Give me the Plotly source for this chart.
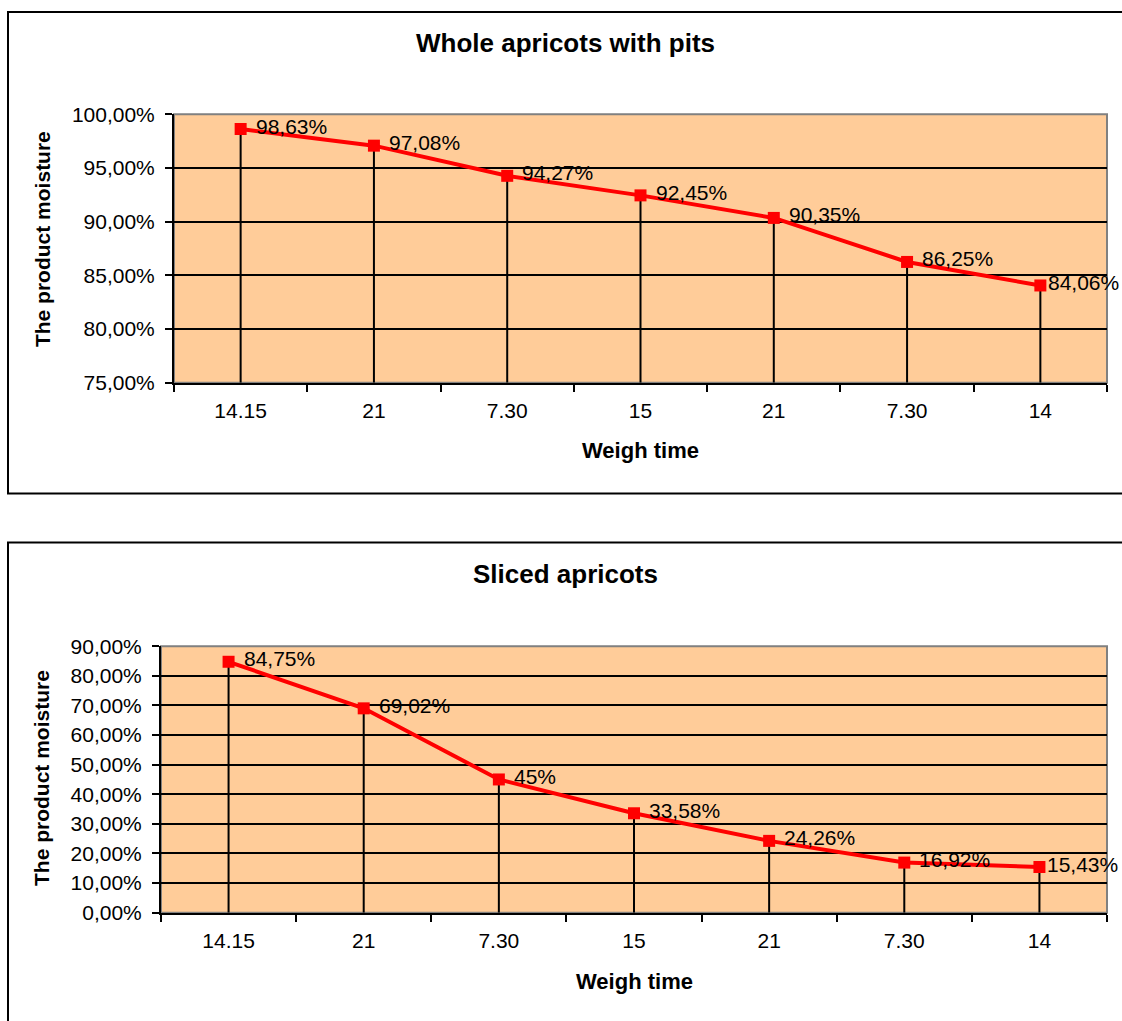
import plotly.graph_objects as go

categories = ["14.15", "21", "7.30", "15", "21", "7.30", "14"]
whole_values = [98.63, 97.08, 94.27, 92.45, 90.35, 86.25, 84.06]
sliced_values = [84.75, 69.02, 45.00, 33.58, 24.26, 16.92, 15.43]
whole_title = "Whole apricots with pits"
sliced_title = "Sliced apricots"
x_title = "Weigh time"
y_title = "The product moisture"

FONT = "Liberation Sans, Arial, sans-serif"
W, H = 1122, 1021
RED = "#FF0000"
BG = "#FFCC99"


def lab(v):
    s = f"{v:.2f}".rstrip("0").rstrip(".")
    return s.replace(".", ",") + "%"


def px(x):
    return x / W


def py(y):
    # observed screen mapping of the page: ~1000 px tall drawing area offset ~10.5 px
    return 1 - (y - 10.5) / 1000


xs = list(range(len(categories)))
fig = go.Figure()

panels = [
    dict(vals=whole_values, ymin=0.75, ymax=1.0, dtick=0.05, ax="x", ay="y",
         xdom=[px(174), px(1107)], ydom=[py(382), py(113)]),
    dict(vals=sliced_values, ymin=0.0, ymax=0.9, dtick=0.1, ax="x2", ay="y2",
         xdom=[px(161), px(1107)], ydom=[py(913), py(646)]),
]

for p in panels:
    yv = [v / 100 for v in p["vals"]]
    fig.add_trace(go.Scatter(
        x=xs, y=yv, xaxis=p["ax"], yaxis=p["ay"], mode="lines+markers",
        line=dict(color=RED, width=4),
        marker=dict(symbol="square", size=12, color=RED),
        error_y=dict(type="data", symmetric=False,
                     array=[0] * len(yv),
                     arrayminus=[v - p["ymin"] for v in yv],
                     color="black", thickness=2, width=0),
        showlegend=False, hoverinfo="skip", cliponaxis=False,
    ))
    n = len(xs)
    for xi, v in zip(xs, p["vals"]):
        fig.add_annotation(x=xi, y=v / 100, xref=p["ax"], yref=p["ay"],
                           text=lab(v), showarrow=False, xanchor="left",
                           yanchor="middle", xshift=13 if xi < n - 1 else 6, yshift=3,
                           font=dict(family=FONT, size=21, color="black"))

axis_common = dict(showline=True, linecolor="black", linewidth=2)

for i, p in enumerate(panels):
    xk = "xaxis" if i == 0 else "xaxis2"
    yk = "yaxis" if i == 0 else "yaxis2"
    fig.update_layout(**{
        xk: dict(domain=p["xdom"], anchor=p["ay"], range=[-0.5, len(xs) - 0.5],
                 tickvals=xs, ticktext=categories, ticks="", showgrid=False,
                 zeroline=False, ticklabelstandoff=8,
                 tickfont=dict(family=FONT, size=21, color="black"),
                 minor=dict(tickvals=[x - 0.5 for x in range(len(xs) + 1)],
                            ticks="outside", ticklen=7, tickwidth=2,
                            tickcolor="black", showgrid=False),
                 **axis_common),
        yk: dict(domain=p["ydom"], anchor=p["ax"], range=[p["ymin"], p["ymax"]],
                 dtick=p["dtick"], tick0=0, tickformat=".2%", ticks="outside",
                 ticklen=7, tickwidth=2, tickcolor="black",
                 showgrid=True, gridcolor="black", gridwidth=2,
                 zeroline=False, ticklabelstandoff=6,
                 tickfont=dict(family=FONT, size=21, color="black"),
                 **axis_common),
    })
    fig.add_shape(type="rect", xref=f"{p['ax']} domain", yref=f"{p['ay']} domain",
                  x0=0, x1=1, y0=0, y1=1, line=dict(color="#808080", width=2),
                  layer="below")

# outer chart boxes
fig.add_shape(type="rect", xref="paper", yref="paper", x0=px(8), x1=px(1130),
              y0=py(493), y1=py(10.5), line=dict(color="black", width=2))
fig.add_shape(type="rect", xref="paper", yref="paper", x0=px(8), x1=px(1130),
              y0=py(1030), y1=py(542), line=dict(color="black", width=2))

texts = [
    (whole_title, 565, 42, 0, 26),
    (sliced_title, 565, 574, 0, 26),
    (x_title, 640, 450, 0, 22),
    (x_title, 634, 982, 0, 22),
    (y_title, 42, 238, -90, 21),
    (y_title, 42, 778, -90, 21),
]
for t, x, y, ang, sz in texts:
    fig.add_annotation(x=px(x), y=py(y), xref="paper", yref="paper", text=f"<b>{t}</b>",
                       showarrow=False, textangle=ang, xanchor="center", yanchor="middle",
                       font=dict(family=FONT, size=sz, color="black"))

fig.update_layout(width=W, height=H, margin=dict(l=0, r=0, t=0, b=0),
                  paper_bgcolor="white", plot_bgcolor=BG, separators=",.",
                  font=dict(family=FONT, color="black"))

fig.write_html("out.html", config={"displayModeBar": False},
               post_script="document.body.style.margin='0';document.body.style.overflow='hidden';")
